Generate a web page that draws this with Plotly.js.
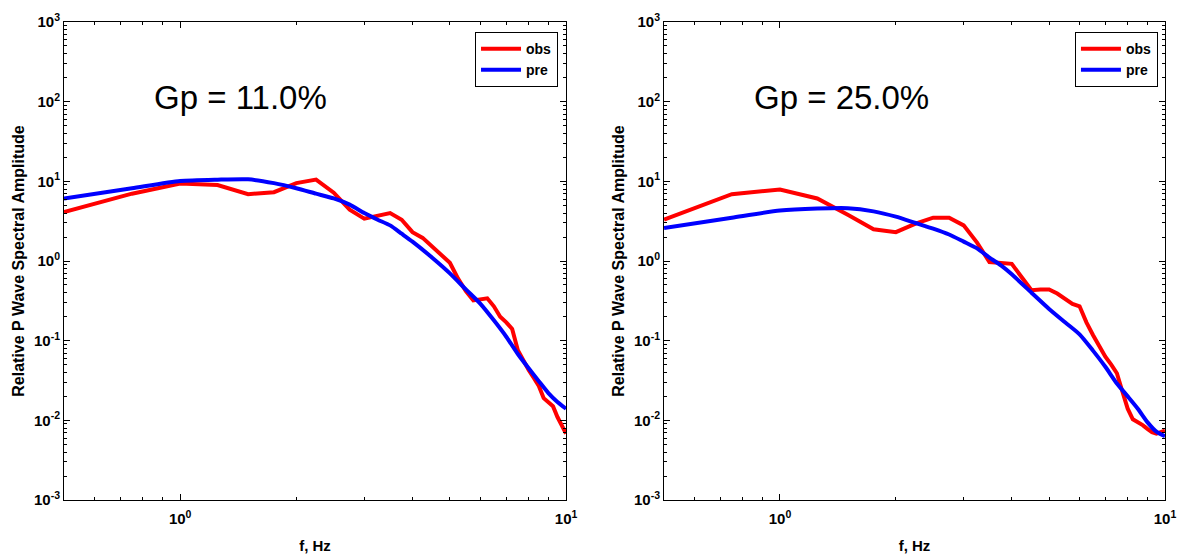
<!DOCTYPE html>
<html>
<head>
<meta charset="utf-8">
<script src="https://cdn.plot.ly/plotly-3.0.1.min.js"></script>
<style>html,body{margin:0;padding:0;background:#fff;}#chart{width:1178px;height:559px;}</style>
</head>
<body>
<div id="chart"></div>
<script>
// ---- data ----
const freqObs = [0.5,0.75,1.0,1.25,1.5,1.75,2.0,2.25,2.5,2.75,3.0,3.25,3.5,3.75,4.0,4.25,4.5,4.75,5.0,5.25,5.5,5.75,6.0,6.25,6.5,6.75,7.0,7.25,7.5,7.75,8.0,8.25,8.5,8.75,9.0,9.25,9.5,9.75,10.0];
const obsLeft = [4.1,7.0,9.4,9.0,6.9,7.3,9.5,10.5,7.2,4.4,3.4,3.7,4.0,3.3,2.3,1.95,1.5,1.2,0.95,0.6,0.42,0.32,0.33,0.34,0.27,0.2,0.17,0.14,0.076,0.056,0.043,0.034,0.027,0.019,0.017,0.015,0.011,0.0085,0.0068];
const obsRight = [3.3,6.9,7.9,6.1,3.8,2.5,2.3,2.95,3.5,3.5,2.8,1.7,0.97,0.95,0.92,0.62,0.43,0.44,0.44,0.39,0.33,0.29,0.27,0.17,0.118,0.085,0.063,0.05,0.039,0.023,0.014,0.0103,0.0095,0.0087,0.0078,0.0071,0.0068,0.0072,0.0074];

const freqPre = [0.5,0.75,1.0,1.25,1.5,1.75,2.0,2.25,2.5,2.75,3.0,3.25,3.5,3.75,4.0,4.5,5.0,5.5,6.0,6.5,7.0,7.5,8.0,8.5,9.0,9.5,10.0];
const preLeft = [6.1,8.2,10.1,10.5,10.6,9.5,8.2,7.0,6.1,5.1,4.0,3.3,2.8,2.2,1.75,1.1,0.7,0.44,0.29,0.18,0.112,0.068,0.045,0.031,0.022,0.017,0.014];
const preRight = [2.6,3.5,4.3,4.55,4.6,4.2,3.6,3.0,2.55,2.15,1.75,1.44,1.1,0.88,0.68,0.4,0.25,0.17,0.12,0.075,0.047,0.029,0.02,0.014,0.0095,0.0072,0.0063];

const gpLabels = ["Gp = 11.0%", "Gp = 25.0%"];
const seriesNames = ["obs", "pre"];
const xTickVals = [1, 10];
const xTickText = ["10<sup>0</sup>", "10<sup>1</sup>"];
const yTickVals = [0.001, 0.01, 0.1, 1, 10, 100, 1000];
const yTickText = ["10<sup>-3</sup>","10<sup>-2</sup>","10<sup>-1</sup>","10<sup>0</sup>","10<sup>1</sup>","10<sup>2</sup>","10<sup>3</sup>"];
const xMinor = [0.6,0.7,0.8,0.9,2,3,4,5,6,7,8,9];
const yMinor = [];
[0.001,0.01,0.1,1,10,100].forEach(d => { for (let k = 2; k <= 9; k++) yMinor.push(+(d*k).toPrecision(3)); });

const RED = "#ff0000", BLUE = "#0000ff";
const FONT = "Liberation Sans, Arial, sans-serif";

const traces = [
  {x: freqObs, y: obsLeft, name: seriesNames[0], type: "scatter", mode: "lines", line: {color: RED, width: 4}, xaxis: "x", yaxis: "y", legend: "legend"},
  {x: freqPre, y: preLeft, name: seriesNames[1], type: "scatter", mode: "lines", line: {color: BLUE, width: 4, shape: "spline", smoothing: 0.6}, xaxis: "x", yaxis: "y", legend: "legend"},
  {x: freqObs, y: obsRight, name: seriesNames[0], type: "scatter", mode: "lines", line: {color: RED, width: 4}, xaxis: "x2", yaxis: "y2", legend: "legend2"},
  {x: freqPre, y: preRight, name: seriesNames[1], type: "scatter", mode: "lines", line: {color: BLUE, width: 4, shape: "spline", smoothing: 0.6}, xaxis: "x2", yaxis: "y2", legend: "legend2"}
];

function xAxis(domain, anchor) {
  return {
    type: "log", range: [Math.log10(0.5), 1], domain: domain, anchor: anchor,
    tickmode: "array", tickvals: xTickVals, ticktext: xTickText,
    ticks: "inside", ticklen: 6, tickwidth: 1, tickcolor: "#000",
    ticklabelstandoff: 5,
    minor: {tickmode: "array", tickvals: xMinor, ticks: "inside", ticklen: 3, tickcolor: "#000", showgrid: false},
    showline: true, linecolor: "#000", linewidth: 1, mirror: "ticks",
    showgrid: false, zeroline: false,
    tickfont: {family: FONT, size: 15, color: "#000", weight: "bold"},
    title: {text: "f, Hz", font: {family: FONT, size: 15, color: "#000", weight: "bold"}, standoff: 14}
  };
}
function yAxis(anchor) {
  return {
    type: "log", range: [-3, 3], domain: [0, 1], anchor: anchor,
    tickmode: "array", tickvals: yTickVals, ticktext: yTickText,
    ticks: "inside", ticklen: 6, tickwidth: 1, tickcolor: "#000",
    minor: {tickmode: "array", tickvals: yMinor, ticks: "inside", ticklen: 3, tickcolor: "#000", showgrid: false},
    showline: true, linecolor: "#000", linewidth: 1, mirror: "ticks",
    showgrid: false, zeroline: false,
    tickfont: {family: FONT, size: 15, color: "#000", weight: "bold"},
    title: {text: "Relative P Wave Spectral Amplitude", font: {family: FONT, size: 16, color: "#000", weight: "bold"}, standoff: 5}
  };
}

const legendStyle = (xr) => ({
  x: xr, y: 0.979, xanchor: "right", yanchor: "top", xref: "paper", yref: "paper",
  bgcolor: "#fff", bordercolor: "#000", borderwidth: 1,
  font: {family: FONT, size: 14, color: "#000", weight: "bold"},
  tracegroupgap: 0, itemwidth: 40
});

const layout = {
  width: 1178, height: 559,
  margin: {l: 64, r: 13, t: 22, b: 59},
  paper_bgcolor: "#fff", plot_bgcolor: "#fff",
  showlegend: true,
  xaxis: xAxis([0, 0.456], "y"),
  yaxis: yAxis("x"),
  xaxis2: xAxis([0.545, 1], "y2"),
  yaxis2: yAxis("x2"),
  legend: legendStyle(0.4487),
  legend2: legendStyle(0.9936),
  annotations: [
    {text: gpLabels[0], xref: "paper", yref: "paper", x: 0.16, y: 0.843, showarrow: false, xanchor: "center", yanchor: "middle", font: {family: FONT, size: 33, color: "#000"}},
    {text: gpLabels[1], xref: "paper", yref: "paper", x: 0.7066, y: 0.843, showarrow: false, xanchor: "center", yanchor: "middle", font: {family: FONT, size: 33, color: "#000"}}
  ]
};

Plotly.newPlot("chart", traces, layout, {displayModeBar: false, staticPlot: true});
</script>
</body>
</html>
